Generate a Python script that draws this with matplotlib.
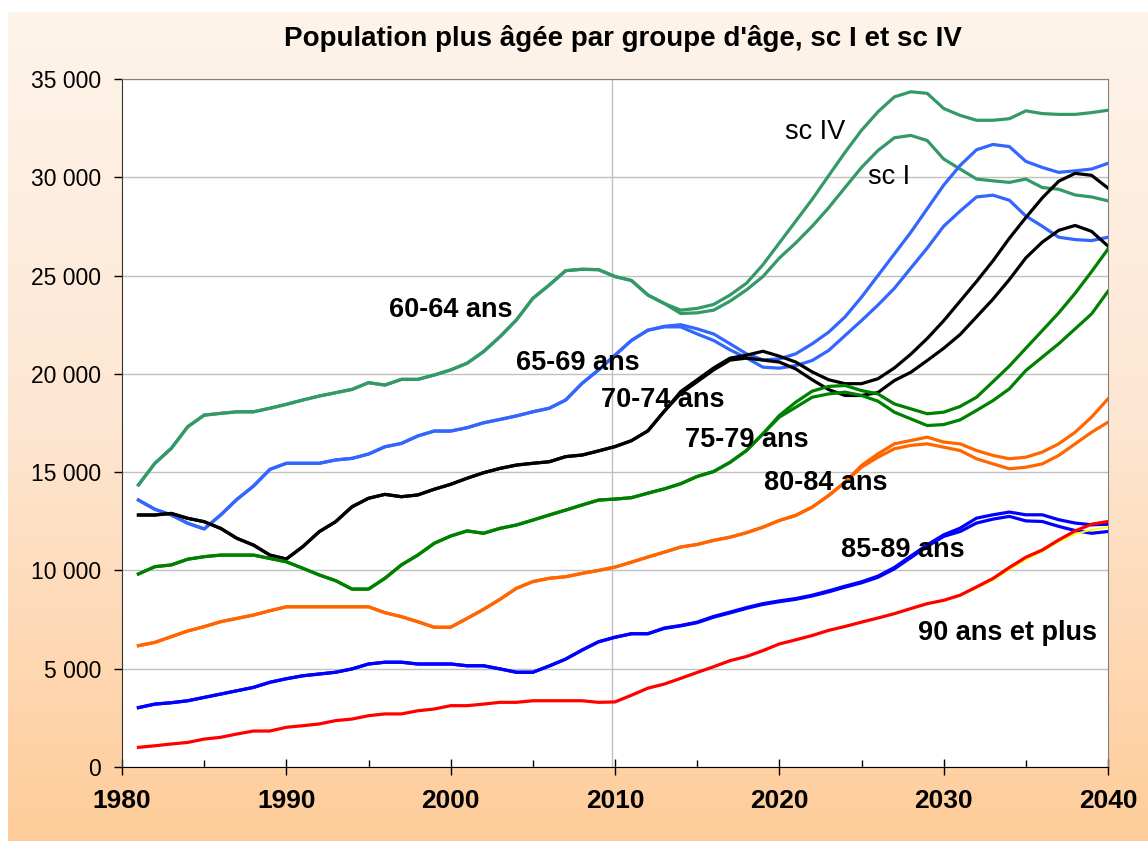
"""
Population plus agee par groupe d'age, sc I et sc IV
"""
import numpy as np
import matplotlib
matplotlib.use("Agg")
import matplotlib.pyplot as plt
from matplotlib.ticker import FuncFormatter, MultipleLocator
from matplotlib.colors import LinearSegmentedColormap

plt.rcParams['font.family'] = ['Liberation Sans', 'DejaVu Sans']

# years
hist_years = list(range(1981, 2011))
proj_years = list(range(2011, 2041))

# 60-64 ans
hist_60 = [14350, 15450, 16210, 17310, 17900, 17990, 18070, 18070, 18250, 18450,
           18670, 18870, 19040, 19210, 19550, 19430, 19720, 19720, 19940, 20200,
           20540, 21130, 21890, 22740, 23840, 24520, 25250, 25320, 25300, 24950]
sc4_60 = [24750, 24010, 23580, 23240, 23330, 23530, 24010, 24610, 25550, 26660,
          27770, 28880, 30080, 31270, 32390, 33330, 34090, 34350, 34270, 33500,
          33150, 32900, 32900, 32980, 33380, 33240, 33200, 33200, 33290, 33410]
sc1_60 = [24750, 24010, 23580, 23070, 23105, 23240, 23700, 24270, 24950, 25890,
          26660, 27510, 28450, 29480, 30500, 31360, 32010, 32130, 31870, 30930,
          30420, 29910, 29820, 29740, 29910, 29480, 29390, 29100, 29000, 28800]

# 65-69 ans
hist_65 = [13580, 13110, 12820, 12400, 12110, 12820, 13620, 14290, 15140, 15450,
           15450, 15450, 15620, 15700, 15920, 16290, 16460, 16840, 17090, 17090,
           17260, 17510, 17680, 17860, 18070, 18250, 18670, 19520, 20200, 20950]
sc4_65 = [21700, 22220, 22420, 22500, 22290, 22030, 21530, 21020, 20710, 20760,
          21020, 21530, 22120, 22900, 23900, 25000, 26100, 27200, 28400, 29600,
          30600, 31400, 31670, 31560, 30810, 30500, 30250, 30330, 30420, 30710]
sc1_65 = [21700, 22220, 22390, 22390, 22030, 21700, 21220, 20810, 20340, 20290,
          20420, 20680, 21190, 21950, 22710, 23500, 24350, 25380, 26400, 27510,
          28280, 29000, 29090, 28830, 28030, 27510, 26950, 26830, 26780, 26950]

# 70-74 ans
hist_70 = [12820, 12820, 12900, 12650, 12480, 12140, 11630, 11290, 10780, 10580,
           11210, 11970, 12480, 13240, 13670, 13870, 13750, 13840, 14130, 14380,
           14690, 14970, 15190, 15360, 15450, 15530, 15790, 15870, 16080, 16300]
sc4_70 = [16600, 17100, 18100, 19100, 19700, 20300, 20800, 20950, 21150, 20900,
          20600, 20100, 19700, 19500, 19500, 19750, 20300, 21000, 21800, 22700,
          23700, 24700, 25750, 26900, 27950, 28950, 29800, 30200, 30100, 29450]
sc1_70 = [16600, 17100, 18100, 19000, 19600, 20200, 20700, 20800, 20700, 20600,
          20250, 19700, 19200, 18900, 18900, 19050, 19660, 20080, 20680, 21300,
          22000, 22900, 23800, 24800, 25900, 26700, 27300, 27550, 27250, 26500]

# 75-79 ans
hist_75 = [9820, 10190, 10280, 10570, 10700, 10780, 10780, 10780, 10610, 10440,
           10110, 9770, 9480, 9050, 9050, 9600, 10280, 10780, 11380, 11750,
           12010, 11890, 12140, 12310, 12560, 12820, 13070, 13330, 13580, 13630]
sc4_75 = [13700, 13930, 14150, 14410, 14780, 15030, 15500, 16100, 16950, 17880,
          18560, 19120, 19360, 19410, 19150, 18980, 18470, 18220, 17970, 18050,
          18340, 18810, 19600, 20400, 21300, 22200, 23100, 24100, 25200, 26350]
sc1_75 = [13700, 13930, 14150, 14410, 14780, 15030, 15500, 16100, 16950, 17800,
          18300, 18810, 18980, 19070, 18900, 18610, 18050, 17710, 17370, 17420,
          17660, 18140, 18640, 19240, 20170, 20850, 21530, 22290, 23050, 24200]

# 80-84 ans
hist_80 = [6170, 6340, 6630, 6920, 7140, 7390, 7560, 7730, 7950, 8150,
           8150, 8150, 8150, 8150, 8150, 7850, 7650, 7390, 7110, 7110,
           7560, 8020, 8530, 9090, 9430, 9600, 9680, 9850, 10000, 10170]
sc4_80 = [10420, 10680, 10930, 11190, 11320, 11530, 11690, 11920, 12200, 12540,
          12800, 13220, 13810, 14490, 15340, 15930, 16440, 16610, 16780, 16530,
          16440, 16100, 15850, 15680, 15760, 16020, 16440, 17030, 17800, 18730]
sc1_80 = [10420, 10680, 10930, 11190, 11320, 11530, 11690, 11920, 12200, 12540,
          12800, 13220, 13810, 14490, 15250, 15760, 16190, 16360, 16440, 16270,
          16100, 15680, 15420, 15170, 15250, 15420, 15850, 16440, 17030, 17540]

# 85-89 ans
hist_85 = [3020, 3200, 3270, 3370, 3540, 3710, 3880, 4050, 4310, 4490,
           4640, 4730, 4820, 4990, 5240, 5330, 5330, 5240, 5240, 5240,
           5150, 5150, 4990, 4820, 4820, 5140, 5490, 5950, 6370, 6600]
sc4_85 = [6780, 6780, 7070, 7200, 7370, 7660, 7880, 8110, 8310, 8450,
          8570, 8740, 8960, 9200, 9420, 9710, 10150, 10730, 11300, 11810,
          12150, 12660, 12830, 12970, 12830, 12830, 12580, 12410, 12320, 12350]
sc1_85 = [6780, 6780, 7050, 7180, 7340, 7620, 7840, 8070, 8270, 8410,
          8530, 8700, 8910, 9150, 9370, 9650, 10080, 10650, 11220, 11730,
          11980, 12410, 12610, 12750, 12520, 12490, 12240, 12030, 11890, 11980]

# 90 ans et plus
hist_90 = [1000, 1080, 1170, 1250, 1420, 1510, 1680, 1830, 1830, 2020,
           2100, 2190, 2360, 2440, 2610, 2700, 2700, 2860, 2950, 3120,
           3120, 3200, 3290, 3290, 3370, 3370, 3370, 3370, 3290, 3310]
sc4_90 = [3650, 4010, 4220, 4510, 4810, 5100, 5410, 5620, 5920, 6260,
          6470, 6690, 6950, 7150, 7370, 7580, 7800, 8060, 8310, 8480,
          8740, 9160, 9590, 10150, 10670, 11040, 11550, 12010, 12350, 12490]
sc1_90 = [3650, 4010, 4220, 4510, 4810, 5100, 5410, 5620, 5920, 6260,
          6470, 6690, 6950, 7150, 7370, 7580, 7800, 8030, 8280, 8450,
          8700, 9100, 9500, 10050, 10560, 10960, 11470, 11860, 12060, 12200]

# label text and position for each group
groups = [
    (hist_60, sc4_60, sc1_60, '#339966', '#339966', '60-64 ans', 2000.0, 23250),
    (hist_65, sc4_65, sc1_65, '#3366FF', '#3366FF', '65-69 ans', 2007.75, 20550),
    (hist_70, sc4_70, sc1_70, 'black', 'black', '70-74 ans', 2012.9, 18670),
    (hist_75, sc4_75, sc1_75, '#008000', '#008000', '75-79 ans', 2018.0, 16630),
    (hist_80, sc4_80, sc1_80, '#FF6600', '#FF6600', '80-84 ans', 2022.85, 14450),
    (hist_85, sc4_85, sc1_85, '#0000FF', '#0000FF', '85-89 ans', 2027.5, 11040),
    (hist_90, sc4_90, sc1_90, '#FF0000', '#FFFF00', '90 ans et plus', 2033.9, 6820),
]

fig = plt.figure(figsize=(11.48, 8.41), dpi=100)
fig.patch.set_facecolor('white')

# peach gradient background
bg = fig.add_axes([8 / 1148, 0, 1 - 8 / 1148, 1 - 12 / 841])
cmap = LinearSegmentedColormap.from_list('peach', ['#FEF4EA', '#FDE6D2', '#FFCC99'])
grad = np.linspace(0, 1, 256).reshape(-1, 1)
bg.imshow(grad, aspect='auto', cmap=cmap, extent=[0, 1, 0, 1], origin='upper')
bg.set_axis_off()

ax = fig.add_axes([122 / 1148, 1 - 767 / 841, (1108 - 122) / 1148, (767 - 79) / 841])
ax.set_facecolor('white')

for hist, s4, s1, c4, c1, label, lx, ly in groups:
    lw1 = 1.3 if c1 != c4 else 2.3
    ax.plot(hist_years + proj_years, hist + s1, color=c1, lw=lw1, zorder=3)
    ax.plot(hist_years + proj_years, hist + s4, color=c4, lw=2.3, zorder=3)
    ax.text(lx, ly, label, fontsize=19.5, fontweight='bold', ha='center', va='center', zorder=5)

ax.text(2022.2, 32300, 'sc IV', fontsize=19.5, ha='center', va='center')
ax.text(2026.7, 30010, 'sc I', fontsize=19.5, ha='center', va='center')

ax.axvline(2009.8, color='#C0C0C0', lw=1, zorder=1)

ax.set_xlim(1980, 2040)
ax.set_ylim(0, 35000)
ax.yaxis.set_major_locator(MultipleLocator(5000))
ax.xaxis.set_major_locator(MultipleLocator(10))
ax.xaxis.set_minor_locator(MultipleLocator(5))
ax.yaxis.set_major_formatter(FuncFormatter(lambda v, p: f'{int(v):,}'.replace(',', ' ')))
ax.grid(axis='y', color='#C0C0C0', lw=1)
ax.set_axisbelow(True)

ax.tick_params(axis='y', direction='out', length=6, width=1, pad=9, labelsize=16.5)
ax.tick_params(axis='x', which='major', direction='inout', length=11, width=1, pad=10, labelsize=19)
ax.tick_params(axis='x', which='minor', direction='in', length=5, width=1)
for t in ax.get_xticklabels():
    t.set_fontweight('bold')

ax.spines['left'].set_color('#333333')
ax.spines['bottom'].set_color('black')
ax.spines['top'].set_color('#808080')
ax.spines['right'].set_color('#808080')

fig.text(0.543, 1 - 38 / 841, "Population plus âgée par groupe d'âge, sc I et sc IV",
         fontsize=20, fontweight='bold', ha='center', va='center')

fig.savefig('out.png', dpi=100)
